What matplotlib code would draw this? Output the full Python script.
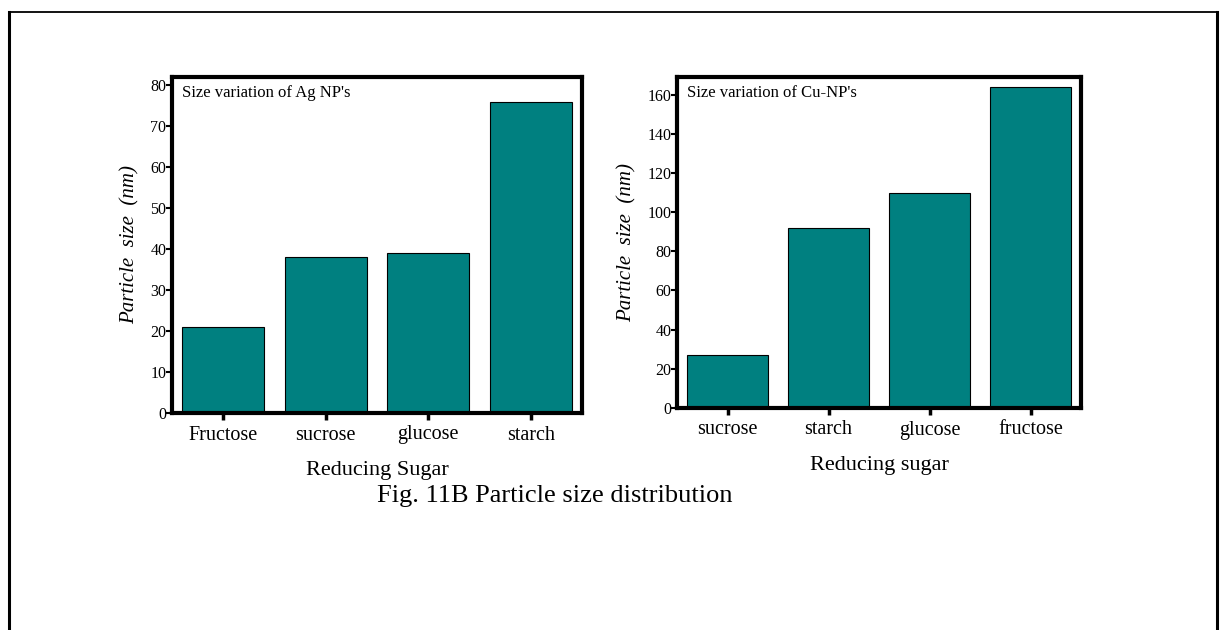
import matplotlib
matplotlib.use('Agg')
import matplotlib.pyplot as plt
from matplotlib.lines import Line2D

# ---- data ----
ag_sugars = ['Fructose', 'sucrose', 'glucose', 'starch']
ag_sizes = [21, 38, 39, 76]
ag_yticks = [0, 10, 20, 30, 40, 50, 60, 70, 80]

cu_sugars = ['sucrose', 'starch', 'glucose', 'fructose']
cu_sizes = [27, 92, 110, 164]
cu_yticks = [0, 20, 40, 60, 80, 100, 120, 140, 160]

bar_color = '#008080'

plt.rcParams['font.family'] = ['Liberation Serif', 'DejaVu Serif']

W, H = 1220, 630
fig = plt.figure(figsize=(W / 100, H / 100), dpi=100)


def px_axes(x0, y0, x1, y1):
    # pixel box (top-left origin) -> figure fraction
    return fig.add_axes([x0 / W, 1 - y1 / H, (x1 - x0) / W, (y1 - y0) / H])


def bar_panel(ax, cats, vals, yticks, ylim, note, xlabel):
    ax.bar(range(len(cats)), vals, width=0.8, color=bar_color,
           edgecolor='black', linewidth=0.8)
    ax.set_xlim(-0.5, len(cats) - 0.5)
    ax.set_ylim(0, ylim)
    ax.set_yticks(yticks)
    ax.set_xticks(range(len(cats)))
    ax.set_xticklabels(cats, fontsize=14.5)
    ax.tick_params(axis='y', direction='out', length=4, width=1.5, pad=0, labelsize=11.5)
    ax.tick_params(axis='x', direction='out', length=5, width=2.5, pad=4)
    for s in ax.spines.values():
        s.set_linewidth(3)
    ax.set_ylabel('Particle  size  (nm)', fontsize=15, style='italic', labelpad=8)
    ax.set_xlabel(xlabel, fontsize=16, labelpad=12)
    ax.text(0.025, 0.975, note, transform=ax.transAxes, fontsize=12, va='top', ha='left')


ax1 = px_axes(172, 77, 582, 413)
bar_panel(ax1, ag_sugars, ag_sizes, ag_yticks, 82, "Size variation of Ag NP's", 'Reducing Sugar')

ax2 = px_axes(677, 77, 1081, 408)
bar_panel(ax2, cu_sugars, cu_sizes, cu_yticks, 169, "Size variation of Cu-NP's", 'Reducing sugar')

fig.text(555 / W, 1 - 496 / H, 'Fig. 11B Particle size distribution', fontsize=19,
         ha='center', va='center')

# outer frame (open at the bottom)
lx, rx, ty = 9 / W, 1217 / W, 1 - 12 / H
fig.add_artist(Line2D([lx, lx], [0, ty], transform=fig.transFigure, color='black', lw=2.2))
fig.add_artist(Line2D([rx, rx], [0, ty], transform=fig.transFigure, color='black', lw=2.2))
fig.add_artist(Line2D([lx, rx], [ty, ty], transform=fig.transFigure, color='black', lw=1.3))

fig.savefig('out.png', dpi=100)
